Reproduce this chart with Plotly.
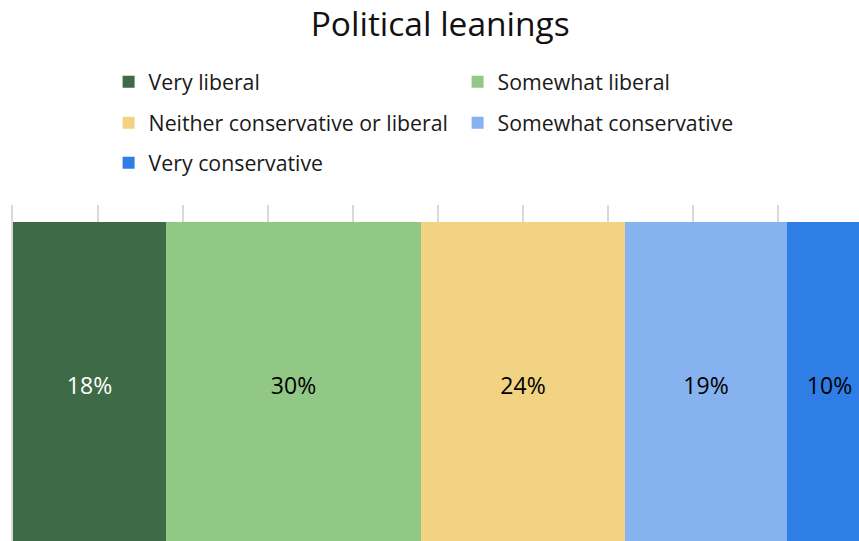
import plotly.graph_objects as go

# Share of respondents by political leaning (single 100% stacked bar)
categories = ["Very liberal", "Somewhat liberal", "Neither conservative or liberal",
              "Somewhat conservative", "Very conservative"]
shares = [18, 30, 24, 19, 10]
colors = ["#3E6A48", "#91C886", "#F2D383", "#86B2F0", "#2F7EE6"]
label_colors = ["white", "black", "black", "black", "black"]
# legend row each series sits in (two entries per row)
legend_rows = ["legend", "legend", "legend2", "legend2", "legend3"]

FONT = "Open Sans"

fig = go.Figure()
for name, val, col, tcol, lg in zip(categories, shares, colors, label_colors, legend_rows):
    fig.add_trace(go.Bar(
        name=name,
        x=[val],
        y=[""],
        orientation="h",
        marker=dict(color=col, line=dict(width=0)),
        texttemplate="%{x}%",
        textposition="inside",
        insidetextanchor="middle",
        textangle=0,
        constraintext="none",
        textfont=dict(family=FONT, size=23, color=tcol),
        legend=lg,
        hoverinfo="skip",
    ))

legend_common = dict(
    orientation="h",
    xanchor="left",
    yanchor="middle",
    x=0.113,
    entrywidth=304,
    entrywidthmode="pixels",
    font=dict(family=FONT, size=21.3, color="#1a1a1a"),
    bgcolor="rgba(0,0,0,0)",
    traceorder="normal",
)

plot_h = 541 - 205  # plotting area height in pixels
def row_y(px):
    return (541 - px) / plot_h

fig.update_layout(
    width=859,
    height=541,
    barmode="stack",
    bargap=0,
    plot_bgcolor="white",
    paper_bgcolor="white",
    margin=dict(l=13, r=0, t=205, b=0, autoexpand=False),
    title=dict(
        text="Political leanings",
        font=dict(family=FONT, size=33.5, color="#111111"),
        x=0.505, xref="paper", xanchor="center",
        y=1 - 24 / 541, yref="container", yanchor="middle",
    ),
    legend=dict(legend_common, y=row_y(82)),
    legend2=dict(legend_common, y=row_y(123)),
    legend3=dict(legend_common, y=row_y(163)),
    xaxis=dict(
        range=[0, 99.5],
        dtick=10,
        tick0=0,
        showgrid=True,
        gridcolor="#D9D9D9",
        gridwidth=1.5,
        zeroline=False,
        showticklabels=False,
        ticks="",
        fixedrange=True,
    ),
    yaxis=dict(
        range=[-0.478, 0.551],
        showticklabels=False,
        showgrid=False,
        zeroline=False,
        showline=True,
        linecolor="#D9D9D9",
        linewidth=1.5,
        ticks="",
        fixedrange=True,
    ),
    showlegend=True,
)

fig.write_html("out.html", config={"displayModeBar": False})
